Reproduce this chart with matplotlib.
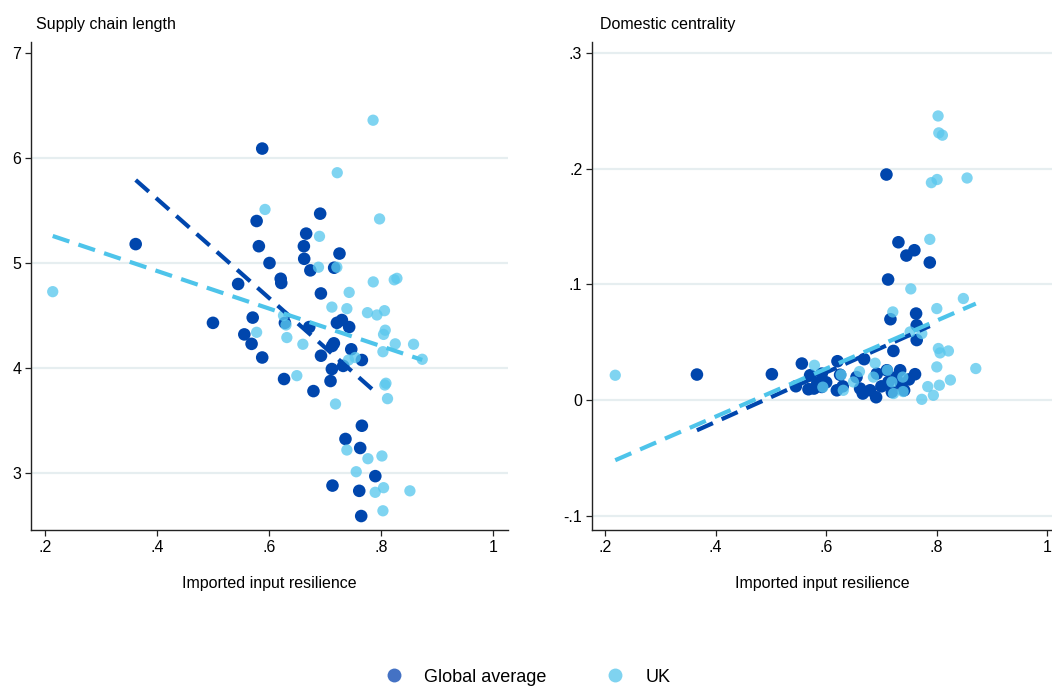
import matplotlib
matplotlib.use("Agg")
import matplotlib.pyplot as plt
from matplotlib.lines import Line2D
import numpy as np

plt.rcParams['font.family'] = ['Liberation Sans', 'DejaVu Sans']

# ---- Supply chain length vs imported input resilience ----
len_global_x = [0.362, 0.500, 0.545, 0.556, 0.569, 0.571, 0.578, 0.582, 0.588, 0.588,
                0.601, 0.621, 0.622, 0.627, 0.6285, 0.6624, 0.663, 0.6665, 0.672, 0.674,
                0.6795, 0.6915, 0.6928, 0.693, 0.710, 0.7124, 0.713, 0.716, 0.7135, 0.7165,
                0.7214, 0.726, 0.7303, 0.7326, 0.7367, 0.7433, 0.747, 0.7613, 0.763, 0.7648,
                0.766, 0.766, 0.790]
len_global_y = [5.18, 4.43, 4.80, 4.32, 4.23, 4.48, 5.40, 5.16, 6.09, 4.10,
                5.00, 4.85, 4.81, 3.895, 4.43, 5.16, 5.04, 5.28, 4.39, 4.93,
                3.78, 5.47, 4.71, 4.117, 3.876, 3.99, 4.21, 4.235, 2.88, 4.955,
                4.43, 5.09, 4.457, 4.02, 3.324, 4.39, 4.178, 2.83, 3.238, 2.59,
                4.076, 3.45, 2.97]
len_uk_x = [0.2138, 0.578, 0.593, 0.626, 0.6305, 0.632, 0.6498, 0.6606, 0.6885, 0.6903,
            0.7124, 0.7189, 0.7213, 0.722, 0.7392, 0.7392, 0.7421, 0.7433, 0.7541, 0.7559,
            0.7760, 0.7768, 0.786, 0.7863, 0.7898, 0.7929, 0.7976, 0.8018, 0.8036, 0.8036,
            0.8047, 0.8047, 0.8064, 0.8071, 0.809, 0.8077, 0.8118, 0.8238, 0.8256, 0.8286,
            0.8518, 0.8583, 0.8738]
len_uk_y = [4.727, 4.34, 5.51, 4.50, 4.41, 4.29, 3.927, 4.226, 4.96, 5.254,
            4.58, 3.657, 4.96, 5.86, 4.565, 3.219, 4.076, 4.72, 4.10, 3.012,
            4.527, 3.136, 6.36, 4.82, 2.816, 4.505, 5.42, 3.162, 4.155, 2.64,
            4.32, 2.86, 4.546, 3.838, 3.855, 4.36, 3.708, 4.84, 4.23, 4.854,
            2.83, 4.226, 4.083]
# linear fits (intercept, slope)
len_global_fit = (7.498, -4.717)
len_uk_fit = (5.640, -1.789)

# ---- Domestic centrality vs imported input resilience ----
cen_global_x = [0.366, 0.5017, 0.5452, 0.556, 0.568, 0.571, 0.578, 0.584, 0.592, 0.592,
                0.600, 0.6205, 0.6253, 0.6194, 0.630, 0.655, 0.6615, 0.6664, 0.6688, 0.6796,
                0.6905, 0.6918, 0.700, 0.7092, 0.7099, 0.7122, 0.7128, 0.7164, 0.719, 0.7218,
                0.727, 0.7309, 0.734, 0.7352, 0.7412, 0.7453, 0.750, 0.7598, 0.761, 0.7629,
                0.764, 0.764, 0.7877]
cen_global_y = [0.0222, 0.0225, 0.0121, 0.0317, 0.0095, 0.0216, 0.0101, 0.015, 0.0115, 0.023,
                0.0155, 0.0337, 0.022, 0.0086, 0.012, 0.020, 0.0101, 0.0058, 0.0355, 0.0086,
                0.0026, 0.023, 0.012, 0.195, 0.0259, 0.1043, 0.0158, 0.070, 0.0072, 0.0426,
                0.020, 0.1365, 0.0259, 0.0144, 0.0086, 0.125, 0.018, 0.1296, 0.0225, 0.0749,
                0.0648, 0.052, 0.119]
cen_uk_x = [0.2181, 0.5788, 0.594, 0.627, 0.631, 0.6494, 0.6603, 0.6856, 0.6887, 0.711,
            0.719, 0.7207, 0.722, 0.7388, 0.7394, 0.752, 0.7533, 0.7732, 0.7732, 0.784,
            0.7877, 0.7906, 0.7942, 0.8004, 0.8004, 0.8009, 0.8027, 0.8033, 0.804, 0.805,
            0.8063, 0.8105, 0.8214, 0.825, 0.8485, 0.8552, 0.871]
cen_uk_y = [0.0216, 0.0302, 0.0113, 0.022, 0.0086, 0.0158, 0.0248, 0.020, 0.032, 0.026,
            0.0158, 0.0763, 0.0058, 0.020, 0.0075, 0.059, 0.0962, 0.0576, 0.0008, 0.0118,
            0.139, 0.188, 0.0043, 0.0792, 0.0288, 0.1907, 0.2456, 0.0447, 0.231, 0.013,
            0.0409, 0.229, 0.0426, 0.0175, 0.0879, 0.192, 0.0274]
cen_global_fit = (-0.1041, 0.2135)
cen_uk_fit = (-0.097, 0.2072)

x_ticks = [0.2, 0.4, 0.6, 0.8, 1.0]
x_tick_labels = ['.2', '.4', '.6', '.8', '1']
len_ticks = [3, 4, 5, 6, 7]
len_tick_labels = ['3', '4', '5', '6', '7']
cen_ticks = [-0.1, 0, 0.1, 0.2, 0.3]
cen_tick_labels = ['-.1', '0', '.1', '.2', '.3']

DARK = '#0046ad'
LIGHT = '#5bc8ee'
LIGHT_LINE = '#4ec4ea'
GRID = '#e6eef0'

W, H = 1052, 688
fig = plt.figure(figsize=(W / 100, H / 100), dpi=100)


def px_axes(l, t, r, b):
    return fig.add_axes([l / W, 1 - b / H, (r - l) / W, (b - t) / H])


def style(ax, xlim, ylim, yticks, ylabels, grid_vals, title, title_x):
    ax.set_xlim(*xlim)
    ax.set_ylim(*ylim)
    for v in grid_vals:
        ax.axhline(v, color=GRID, lw=1.6, zorder=0)
    ax.set_xticks(x_ticks)
    ax.set_xticklabels(x_tick_labels)
    ax.set_yticks(yticks)
    ax.set_yticklabels(ylabels)
    for s in ['top', 'right']:
        ax.spines[s].set_visible(False)
    for s in ['left', 'bottom']:
        ax.spines[s].set_linewidth(1.0)
        ax.spines[s].set_color('#222222')
    ax.tick_params(axis='both', direction='out', length=4, width=0.9,
                   labelsize=11.5, colors='#222222', labelcolor='black', pad=3)
    ax.set_xlabel('Imported input resilience', fontsize=11.5, labelpad=15)
    fig.text(title_x / W, 1 - 25 / H, title, fontsize=11.5, ha='left', va='center')


def draw(ax, gx, gy, ux, uy, gfit, ufit):
    gx, gy, ux, uy = map(np.asarray, (gx, gy, ux, uy))
    ax.scatter(gx, gy, s=82, color=DARK, edgecolors='none', zorder=3)
    ax.scatter(ux, uy, s=66, color=LIGHT, alpha=0.78, edgecolors='none', zorder=4)
    xs = np.array([gx.min(), gx.max()])
    ax.plot(xs, gfit[0] + gfit[1] * xs, color=DARK, lw=3.0, dashes=(4.2, 2.3),
            zorder=5)
    xs = np.array([ux.min(), ux.max()])
    ax.plot(xs, ufit[0] + ufit[1] * xs, color=LIGHT_LINE, lw=3.0, dashes=(4.2, 2.3),
            zorder=5)


ax1 = px_axes(31, 42, 508, 530)
style(ax1, (0.175, 1.027), (2.457, 7.105), len_ticks, len_tick_labels,
      [3, 4, 5, 6], 'Supply chain length', 36)
draw(ax1, len_global_x, len_global_y, len_uk_x, len_uk_y, len_global_fit, len_uk_fit)

ax2 = px_axes(592, 42, 1052, 530)
style(ax2, (0.176, 1.009), (-0.1121, 0.3095), cen_ticks, cen_tick_labels,
      [-0.1, 0, 0.1, 0.2, 0.3], 'Domestic centrality', 600)
draw(ax2, cen_global_x, cen_global_y, cen_uk_x, cen_uk_y, cen_global_fit, cen_uk_fit)

handles = [Line2D([], [], ls='none', marker='o', markersize=10, color='#4472c4',
                  markeredgewidth=0),
           Line2D([], [], ls='none', marker='o', markersize=10, color='#7fd3f0',
                  markeredgewidth=0)]
fig.legend(handles, ['Global average', 'UK'], loc='center', ncol=2,
           bbox_to_anchor=(527 / W, 1 - 677 / H), frameon=False, fontsize=13,
           handletextpad=1.1, columnspacing=3.2, handlelength=1.2,
           borderpad=0.2)

fig.savefig('out.png', dpi=100)
